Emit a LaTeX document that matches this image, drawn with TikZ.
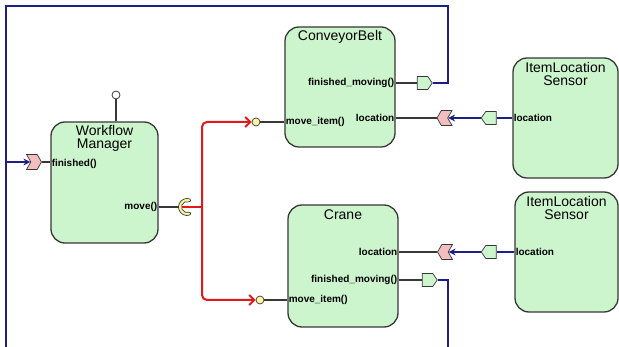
\documentclass[tikz,border=0pt]{standalone}
\usepackage{fontspec}
\setmainfont{Liberation Sans}
\usepackage{tikz}
\usetikzlibrary{positioning,calc,arrows.meta}
\usetikzlibrary{shapes.symbols}
\definecolor{boxgreen}{RGB}{205,245,205}
\definecolor{portpink}{RGB}{243,190,190}
\definecolor{reqyellow}{RGB}{255,244,160}
\definecolor{wirenavy}{RGB}{30,30,135}
\definecolor{wirered}{RGB}{225,25,25}
\definecolor{edgegray}{RGB}{55,55,55}

\begin{document}
\begin{tikzpicture}[x=1pt,y=-1pt,
  comp/.style={draw=edgegray,line width=1.3pt,fill=boxgreen,rounded corners=14pt,inner sep=0pt},
  ctitle/.style={font=\fontsize{14}{13}\selectfont,align=center,inner sep=0pt},
  plabel/.style={font=\bfseries\fontsize{10}{11}\selectfont,inner sep=1.2pt},
  outport/.style={signal,signal pointer angle=110,draw=edgegray,fill=boxgreen,line width=0.7pt,minimum width=15pt,minimum height=13pt,inner sep=0pt},
  inport/.style={signal,signal pointer angle=120,draw=edgegray,fill=portpink,line width=0.7pt,minimum width=15pt,minimum height=15pt,inner sep=0pt},
  reqport/.style={circle,draw=edgegray,fill=reqyellow,line width=0.7pt,minimum size=8pt,inner sep=0pt},
  wire/.style={draw=edgegray,line width=1.1pt},
  navywire/.style={draw=wirenavy,line width=1.3pt},
  reqwire/.style={draw=wirered,line width=2pt}]
 	\useasboundingbox (0,0) rectangle (619,347);
 	% components
 	\node[comp,minimum width=107pt,minimum height=121pt] (wf) at (104.5,182.5) {};
 	\node[ctitle,below=4pt of wf.north] (wftitle) {Workflow\\Manager};
 	\node[comp,minimum width=110pt,minimum height=120pt] (cb) at (340,87) {};
 	\node[ctitle,below=4pt of cb.north] (cbtitle) {ConveyorBelt};
 	\node[comp,minimum width=110pt,minimum height=122pt] (cr) at (343,266) {};
 	\node[ctitle,below=5pt of cr.north] (crtitle) {Crane};
 	\node[comp,minimum width=105pt,minimum height=120pt] (sa) at (565.5,118) {};
 	\node[ctitle,below=5pt of sa.north] (satitle) {ItemLocation\\Sensor};
 	\node[comp,minimum width=103pt,minimum height=120pt] (sb) at (566.5,252) {};
 	\node[ctitle,below=5pt of sb.north] (sbtitle) {ItemLocation\\Sensor};
 	% ports
 	\node[inport,signal from=west,signal to=east] (wfFin) at (34,162) {};
 	\coordinate (wfSock) at (187,207);
 	\node[circle,draw=edgegray,fill=white,line width=0.8pt,minimum size=8pt,inner sep=0pt] (wfLolli) at (116,95) {};
 	\node[outport,signal to=east] (cbFin) at (422.5,83) {};
 	\node[inport,signal from=east,signal to=west] (cbLoc) at (444.5,118) {};
 	\node[reqport] (cbMove) at (256,122) {};
 	\node[inport,signal from=east,signal to=west] (crLoc) at (445,252) {};
 	\node[outport,signal to=east] (crFin) at (427.5,280) {};
 	\node[reqport] (crMove) at (260,300) {};
 	\node[outport,signal to=west] (saLoc) at (491,118) {};
 	\node[outport,signal to=west] (sbLoc) at (491,252) {};
 	% port labels
 	\node[plabel,anchor=west] (wfFinL) at ($(wf.west |- wfFin)+(0,2)$) {finished()};
 	\node[plabel,anchor=east] (wfMoveL) at (wf.east |- wfSock) {move()};
 	\node[plabel,anchor=east] (cbFinL) at (cb.east |- cbFin) {finished\_moving()};
 	\node[plabel,anchor=east] (cbLocL) at (cb.east |- cbLoc) {location};
 	\node[plabel,anchor=west] (cbMoveL) at (cb.west |- cbMove) {move\_item()};
 	\node[plabel,anchor=east] (crLocL) at (cr.east |- crLoc) {location};
 	\node[plabel,anchor=east] (crFinL) at (cr.east |- crFin) {finished\_moving()};
 	\node[plabel,anchor=west] (crMoveL) at (cr.west |- crMove) {move\_item()};
 	\node[plabel,anchor=west] (saLocL) at (sa.west |- saLoc) {location};
 	\node[plabel,anchor=west] (sbLocL) at (sb.west |- sbLoc) {location};
 	% socket of move()
 	\draw[edgegray,fill=reqyellow,line width=0.7pt,line join=round] ($(wfSock)+(70:8.5)$) arc[start angle=70,end angle=290,radius=8.5]
 		arc[start angle=-70,end angle=110,radius=1.5]
 		arc[start angle=290,end angle=70,radius=5.5]
 		arc[start angle=-110,end angle=70,radius=1.5] -- cycle;
 	% stubs from the boxes
 	\draw[wire] (wfLolli.south) -- (wfLolli.south |- wf.north);
 	\draw[wire] (wf.east |- wfSock) -- ($(wfSock)+(-8.5,0)$);
 	\draw[wire] (wfFin.east) -- (wfFin.east -| wf.west);
 	\draw[wire] (cbFin.west) -- (cbFin.west -| cb.east);
 	\draw[wire] (cbLoc.west) -- (cbLoc.west -| cb.east);
 	\draw[wire] (cbMove.east) -- (cbMove.east -| cb.west);
 	\draw[wire] (crLoc.west) -- (crLoc.west -| cr.east);
 	\draw[wire] (crFin.west) -- (crFin.west -| cr.east);
 	\draw[wire] (crMove.east) -- (crMove.east -| cr.west);
 	\draw[navywire] (saLoc.east) -- (saLoc.east -| sa.west);
 	\draw[navywire] (sbLoc.east) -- (sbLoc.east -| sb.west);
 	% navy wires
 	\coordinate (topR) at (448,6);
 	\coordinate (topL) at (6,6);
 	\coordinate (botL) at (6,347);
 	\coordinate (botR) at (448,347);
 	\draw[navywire] (cbFin.east) -| (topR) -- (topL) -- (botL);
 	\draw[navywire,-{Stealth[length=7pt,width=7pt]}] (topL |- wfFin) -- (wfFin.west);
 	\draw[navywire] (crFin.east) -| (botR);
 	\draw[navywire,-{Stealth[length=7pt,width=7pt]}] (saLoc.west) -- (cbLoc.east);
 	\draw[navywire,-{Stealth[length=7pt,width=7pt]}] (sbLoc.west) -- (crLoc.east);
 	% red requires wires
 	\coordinate (fork) at (202,207);
 	\draw[reqwire] ($(wfSock)+(-5.5,0)$) -- (fork);
 	\draw[reqwire,rounded corners=5pt,-{Straight Barb[length=5pt,width=10pt]}] (fork) |- (cbMove.west);
 	\draw[reqwire,rounded corners=5pt,-{Straight Barb[length=5pt,width=10pt]}] (fork) |- (crMove.west);
 \end{tikzpicture}
\end{document}
